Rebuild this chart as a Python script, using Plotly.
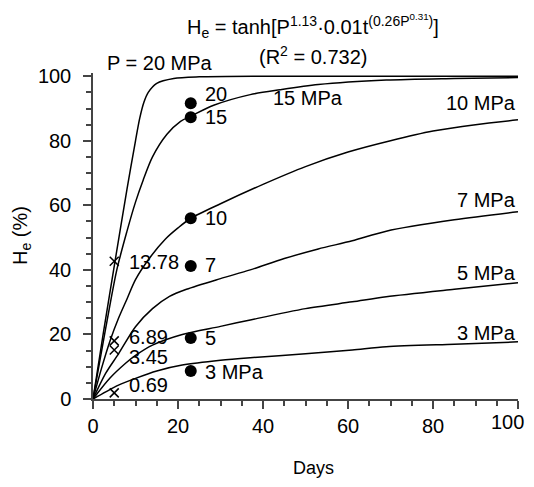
import plotly.graph_objects as go

FONT = "Liberation Sans, Arial, sans-serif"
C_INK = "#000000"
C_AXIS = "#444444"

# fitted curves (days, He %)
P20_DAYS = [0, 2.5, 5.2, 8, 10, 11, 12, 13, 15, 19, 25, 40, 100]
P20_HE   = [0, 21, 42.8, 65, 80, 87, 92, 95, 97.8, 99.3, 99.8, 100, 100]
P15_DAYS = [0, 3, 5.6, 8, 10, 11.8, 14, 17.4, 20.6, 23, 28.4, 37, 44, 53, 69, 85, 100]
P15_HE   = [0, 22, 40, 52, 61, 67.8, 75, 82, 86, 87.6, 91, 94.3, 95.8, 97.4, 98.8, 99.3, 99.6]
P10_DAYS = [0, 2, 4, 6, 8, 10, 13.5, 17, 20, 23, 30, 40, 50, 60, 70, 80, 90, 100]
P10_HE   = [0, 9.5, 18, 25, 31, 37, 44, 49.5, 53, 56, 60.5, 66.5, 72, 76.5, 80, 83, 85, 86.5]
P7_DAYS  = [0, 3, 6, 10, 14, 18, 22, 30, 37, 45, 53, 61, 69, 85, 100]
P7_HE    = [0, 8, 14, 22.4, 28, 31.8, 34, 37.3, 40, 43.5, 46.5, 49, 52, 55.5, 58]
P5_DAYS  = [0, 4, 7.6, 10, 14, 21, 30, 37, 50, 61, 69, 85, 100]
P5_HE    = [0, 6.5, 11, 13.5, 16.7, 20, 22.5, 24.5, 28, 30.1, 31.7, 34, 36]
P3_DAYS  = [0, 3, 6, 10, 15, 21, 30, 37, 50, 61, 69, 85, 100]
P3_HE    = [0, 2.2, 4.3, 6.4, 8.7, 10.5, 12, 12.8, 14, 15.2, 16.2, 17, 17.7]

CURVES = [(P20_DAYS, P20_HE), (P15_DAYS, P15_HE), (P10_DAYS, P10_HE),
          (P7_DAYS, P7_HE), (P5_DAYS, P5_HE), (P3_DAYS, P3_HE)]

# measured points
DOT_DAYS = [23, 23, 23, 23, 23, 23]
DOT_HE   = [91.6, 87.3, 56, 41.2, 18.9, 8.7]
DOT_TEXT = ["20", "15", "10", "7", "5", "3 MPa"]
DOT_TEXT_Y = [94.5, 87.3, 56, 41.5, 18.9, 8.4]

CROSS_DAYS = [5, 5, 5, 5]
CROSS_HE   = [42.7, 18, 15.2, 1.9]
CROSS_TEXT = ["13.78", "6.89", "3.45", "0.69"]
CROSS_TEXT_Y = [42.4, 19.2, 13, 4.3]

END_LABELS = ["10 MPa", "7 MPa", "5 MPa", "3 MPa"]
END_LABEL_Y = [91.6, 61.6, 39, 20.4]

X_TICKS = [0, 20, 40, 60, 80, 100]
Y_TICKS = [0, 20, 40, 60, 80, 100]

fig = go.Figure()

for days, he in CURVES:
    fig.add_trace(go.Scatter(
        x=days, y=he, mode="lines", line=dict(color=C_INK, width=1.5, shape="spline", smoothing=0.8),
        showlegend=False, hoverinfo="skip",
    ))

fig.add_trace(go.Scatter(
    x=DOT_DAYS, y=DOT_HE, mode="markers",
    marker=dict(symbol="circle", size=12, color=C_INK),
    showlegend=False, cliponaxis=False,
))
fig.add_trace(go.Scatter(
    x=CROSS_DAYS, y=CROSS_HE, mode="markers",
    marker=dict(symbol="x-thin", size=9, line=dict(color=C_INK, width=1.5)),
    showlegend=False, cliponaxis=False,
))

ann = []
for t, y in zip(DOT_TEXT, DOT_TEXT_Y):
    ann.append(dict(x=25.8, y=y, text=t, xanchor="left", yanchor="middle"))
for t, y in zip(CROSS_TEXT, CROSS_TEXT_Y):
    ann.append(dict(x=8.0, y=y, text=t, xanchor="left", yanchor="middle"))
for t, y in zip(END_LABELS, END_LABEL_Y):
    ann.append(dict(x=100, y=y, text=t, xanchor="right", yanchor="middle"))
ann.append(dict(x=41.8, y=93.2, text="15 MPa", xanchor="left", yanchor="middle"))
for a in ann:
    a.update(xref="x", yref="y")

# texts above the plot area: paper coordinates (plot top = 1)
ann.append(dict(x=2.8, xref="x", y=1.031, yref="paper", text="P = 20 MPa",
                xanchor="left", yanchor="middle"))
ann.append(dict(x=51.8, xref="x", y=1.145, yref="paper", xanchor="center", yanchor="middle",
                text="H<sub>e</sub> = tanh[P<sup>1.13</sup>·0.01t<sup>(0.26P<sup>0.31</sup>)</sup>]"))
ann.append(dict(x=51.8, xref="x", y=1.055, yref="paper", xanchor="center", yanchor="middle",
                text="(R<sup>2</sup> = 0.732)"))
# last x tick label drawn by hand so the page edge does not cut it
ann.append(dict(x=X_TICKS[-1], xref="x", xanchor="right", xshift=8, y=0, yref="paper",
                yanchor="middle", yshift=-23, text=str(X_TICKS[-1])))
for a in ann:
    a.update(showarrow=False, font=dict(size=20, color=C_INK, family=FONT))

ann.append(dict(x=51.8, xref="x", y=0, yref="paper", yshift=-69, yanchor="middle",
                text="Days", showarrow=False, font=dict(size=18, color=C_INK, family=FONT)))
ann.append(dict(x=0, xref="paper", xshift=-72, y=0.5, yref="paper", textangle=-90,
                xanchor="center", yanchor="middle", text="H<sub>e</sub> (%)",
                showarrow=False, font=dict(size=20, color=C_INK, family=FONT)))

# page body adds 8px all round; size the figure so the page does not overflow
fig.update_layout(
    template="none",
    width=526, height=471,
    margin=dict(l=85, r=16, t=65, b=80),
    paper_bgcolor="#FFFFFF", plot_bgcolor="#FFFFFF",
    font=dict(family=FONT, size=20, color=C_INK),
    annotations=ann,
)
fig.update_xaxes(
    automargin=False,
    range=[0, 100], tickvals=X_TICKS,
    ticktext=[str(v) for v in X_TICKS[:-1]] + [""],
    showline=True, linecolor=C_AXIS, linewidth=1.5, showgrid=False, zeroline=False,
    ticks="outside", ticklen=8, tickwidth=1.5, tickcolor=C_AXIS,
    minor=dict(dtick=5, ticks="outside", ticklen=5, tickwidth=1.5, tickcolor=C_AXIS, showgrid=False),
    tickfont=dict(size=20),
)
fig.update_yaxes(
    automargin=False,
    range=[0, 101], tickvals=Y_TICKS,
    showline=True, linecolor=C_AXIS, linewidth=1.5, showgrid=False, zeroline=False,
    ticks="outside", ticklen=8, tickwidth=1.5, tickcolor=C_AXIS,
    minor=dict(tickvals=list(range(5, 100, 5)), ticks="outside", ticklen=5, tickwidth=1.5,
               tickcolor=C_AXIS, showgrid=False),
    tickfont=dict(size=20), ticklabelstandoff=8,
)

fig.write_html("out.html")
